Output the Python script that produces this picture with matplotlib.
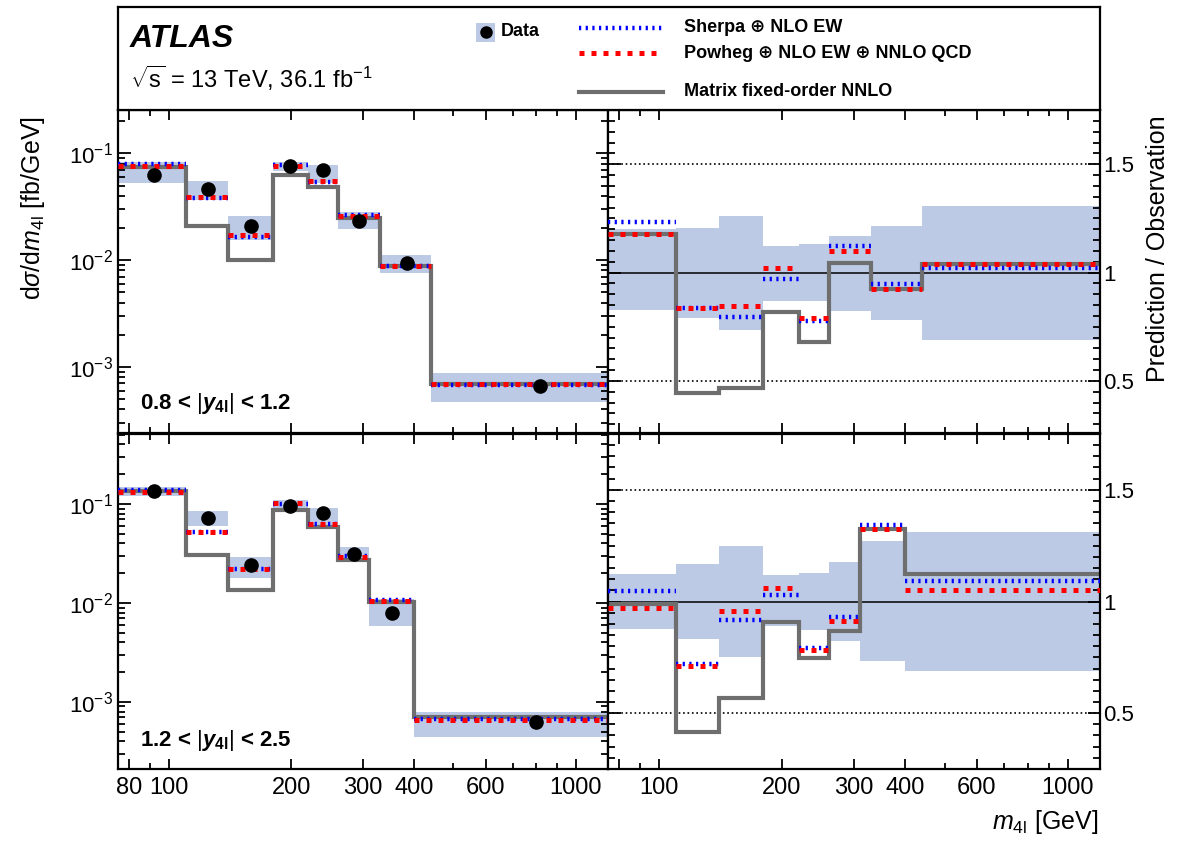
import numpy as np
import matplotlib
matplotlib.use("Agg")
import matplotlib.pyplot as plt
from matplotlib.ticker import FixedLocator, FuncFormatter, NullFormatter, LogLocator, MultipleLocator

plt.rcParams["font.family"] = ["Liberation Sans", "DejaVu Sans"]
plt.rcParams["mathtext.fontset"] = "custom"
plt.rcParams["mathtext.rm"] = "Liberation Sans"
plt.rcParams["mathtext.it"] = "Liberation Sans:italic"
plt.rcParams["mathtext.bf"] = "Liberation Sans:bold"
plt.rcParams["mathtext.bfit"] = "Liberation Sans:bold:italic"

# m4l bin edges for the two |y4l| slices
edges_u = [75, 110, 140, 180, 220, 260, 330, 440, 1200]
edges_l = [75, 110, 140, 180, 220, 260, 310, 400, 1200]

# 0.8 < |y4l| < 1.2 : cross sections [fb/GeV]
data_x_u = [92, 125, 159, 199, 239, 294, 384, 818]
data_u = [0.0627, 0.046, 0.0208, 0.076, 0.0698, 0.0233, 0.00944, 6.64e-4]
sherpa_u = [0.079, 0.0385, 0.0166, 0.0775, 0.0545, 0.0265, 0.0089, 6.8e-4]
powheg_u = [0.0765, 0.0388, 0.0171, 0.0765, 0.0553, 0.026, 0.00885, 6.9e-4]
matrix_u = [0.0748, 0.0208, 0.0100, 0.0627, 0.048, 0.0246, 0.00885, 6.9e-4]
band_u_lo = [0.053, 0.0365, 0.0156, 0.0686, 0.0524, 0.0195, 0.0075, 4.7e-4]
band_u_hi = [0.0834, 0.0553, 0.026, 0.0834, 0.0777, 0.0284, 0.0111, 8.7e-4]

# 1.2 < |y4l| < 2.5
data_x_l = [92, 125, 159, 199, 239, 285, 354, 798]
data_l = [0.1355, 0.0727, 0.024, 0.0963, 0.0805, 0.0316, 0.0079, 6.3e-4]
sherpa_l = [0.139, 0.052, 0.0218, 0.099, 0.0635, 0.0295, 0.0106, 6.8e-4]
powheg_l = [0.1315, 0.0516, 0.0222, 0.1016, 0.0627, 0.0292, 0.01044, 6.6e-4]
matrix_l = [0.134, 0.0303, 0.0134, 0.0869, 0.059, 0.027, 0.0102, 7.1e-4]
band_l_lo = [0.1206, 0.0603, 0.018, 0.0905, 0.0612, 0.027, 0.0058, 4.4e-4]
band_l_hi = [0.148, 0.085, 0.0292, 0.11, 0.0905, 0.037, 0.011, 7.9e-4]

# ratios prediction / observation
r_sherpa_u = [1.235, 0.836, 0.795, 0.971, 0.775, 1.124, 0.948, 1.023]
r_powheg_u = [1.177, 0.836, 0.844, 1.023, 0.79, 1.101, 0.925, 1.039]
r_matrix_u = [1.177, 0.445, 0.468, 0.816, 0.678, 1.043, 0.925, 1.039]
r_band_u_lo = [0.828, 0.79, 0.736, 0.870, 0.867, 0.825, 0.782, 0.69]
r_band_u_hi = [1.2, 1.207, 1.261, 1.123, 1.131, 1.169, 1.215, 1.307]

r_sherpa_l = [1.045, 0.72, 0.919, 1.027, 0.79, 0.93, 1.341, 1.094]
r_powheg_l = [0.972, 0.713, 0.957, 1.06, 0.783, 0.912, 1.323, 1.052]
r_matrix_l = [0.99, 0.414, 0.568, 0.91, 0.746, 0.87, 1.323, 1.124]
r_band_l_lo = [0.878, 0.83, 0.75, 0.892, 0.873, 0.821, 0.733, 0.688]
r_band_l_hi = [1.121, 1.169, 1.248, 1.117, 1.127, 1.179, 1.269, 1.311]

xticks = [80, 100, 200, 300, 400, 600, 1000]
xminor = [90, 500, 700, 800, 900]

BAND = "#bccae6"
GREY = "#6e6e6e"
W, H = 1182, 848
fig = plt.figure(figsize=(W / 100, H / 100), dpi=100)


def px_axes(x0, y0, x1, y1):
    return fig.add_axes([x0 / W, 1 - y1 / H, (x1 - x0) / W, (y1 - y0) / H])


def style(ax, xlabels, skip80=False):
    ax.set_xscale("log")
    ax.set_xlim(75, 1200)
    ax.xaxis.set_major_locator(FixedLocator(xticks))
    ax.xaxis.set_minor_locator(FixedLocator(xminor))
    if xlabels:
        ax.xaxis.set_major_formatter(FuncFormatter(
            lambda v, p: "" if (skip80 and v == 80) else f"{v:g}"))
    else:
        ax.xaxis.set_major_formatter(NullFormatter())
    ax.xaxis.set_minor_formatter(NullFormatter())
    ax.tick_params(axis="x", which="major", length=7, width=1.3)
    ax.tick_params(axis="x", which="minor", length=4, width=1.3)
    ax.tick_params(axis="y", which="major", length=9, width=1.3)
    ax.tick_params(axis="y", which="minor", length=5, width=1.3)
    ax.tick_params(which="both", direction="in", top=True, bottom=True,
                   left=True, right=True, labelsize=16)
    for s in ax.spines.values():
        s.set_linewidth(1.6)


def draw(ax, edges, lo, hi, sherpa, powheg, matrix):
    e = np.array(edges, dtype=float)
    ax.bar(e[:-1], np.array(hi) - np.array(lo), width=np.diff(e), bottom=lo,
           align="edge", color=BAND, lw=0, zorder=1)
    ax.stairs(matrix, e, baseline=None, color=GREY, lw=3, zorder=2)
    ax.hlines(sherpa, e[:-1], e[1:], colors="#0000ff", lw=3.2,
              linestyles=(0, (0.5, 1.0)), zorder=3)
    ax.hlines(powheg, e[:-1], e[1:], colors="#ff0000", lw=3.6,
              linestyles=(0, (1, 1.4)), zorder=4)


ax_ul = px_axes(118, 110, 608, 433)
ax_ll = px_axes(118, 434, 608, 769)
ax_ur = px_axes(608, 110, 1100, 433)
ax_lr = px_axes(608, 434, 1100, 769)

# left: cross sections
for ax, edges, lo, hi, sh, pw, mx, dx, dy, ylim, lab, ly in [
    (ax_ul, edges_u, band_u_lo, band_u_hi, sherpa_u, powheg_u, matrix_u,
     data_x_u, data_u, (2.4e-4, 0.255), r"0.8 < $|\mathbfit{y}_{\mathbf{4l}}|$ < 1.2", 0.09),
    (ax_ll, edges_l, band_l_lo, band_l_hi, sherpa_l, powheg_l, matrix_l,
     data_x_l, data_l, (2.1e-4, 0.51), r"1.2 < $|\mathbfit{y}_{\mathbf{4l}}|$ < 2.5", 0.085),
]:
    ax.set_yscale("log")
    draw(ax, edges, lo, hi, sh, pw, mx)
    ax.plot(dx, dy, "o", color="black", ms=9.5, zorder=5)
    ax.set_ylim(*ylim)
    style(ax, ax is ax_ll)
    ax.yaxis.set_major_locator(LogLocator(base=10, numticks=10))
    ax.yaxis.set_minor_locator(LogLocator(base=10, subs=np.arange(2, 10), numticks=10))
    ax.yaxis.set_minor_formatter(NullFormatter())
    ax.text(0.045, ly, lab, transform=ax.transAxes, fontsize=16,
            fontweight="bold", ha="left", va="center")

# right: ratios
for ax, edges, lo, hi, sh, pw, mx, ylim in [
    (ax_ur, edges_u, r_band_u_lo, r_band_u_hi, r_sherpa_u, r_powheg_u, r_matrix_u, (0.26, 1.75)),
    (ax_lr, edges_l, r_band_l_lo, r_band_l_hi, r_sherpa_l, r_powheg_l, r_matrix_l, (0.25, 1.75)),
]:
    draw(ax, edges, lo, hi, sh, pw, mx)
    ax.axhline(1.0, color="black", lw=1.1, zorder=1.5)
    ax.axhline(0.5, color="black", lw=1.2, ls=":", zorder=1.5)
    ax.axhline(1.5, color="black", lw=1.2, ls=":", zorder=1.5)
    ax.set_ylim(*ylim)
    style(ax, ax is ax_lr, skip80=True)
    ax.yaxis.set_major_locator(FixedLocator([0.5, 1.0, 1.5]))
    ax.yaxis.set_minor_locator(MultipleLocator(0.05))
    ax.yaxis.set_major_formatter(FuncFormatter(lambda v, p: f"{v:g}"))
    ax.tick_params(axis="y", labelleft=False, labelright=True, pad=2)

for ax in (ax_ll, ax_lr):
    ax.tick_params(axis="x", pad=6, labelsize=17)

fig.text(33 / W, 1 - 208 / H, r"d$\sigma$/d$m_{4\mathrm{l}}$ [fb/GeV]",
         rotation=90, ha="center", va="center", fontsize=18)
fig.text(1158 / W, 1 - 249 / H, "Prediction / Observation",
         rotation=90, ha="center", va="center", fontsize=18)
fig.text(1098 / W, 1 - 822 / H, r"$m_{4\mathrm{l}}$ [GeV]",
         ha="right", va="center", fontsize=18)

# header box with labels and legend
hd = px_axes(118, 7, 1100, 110)
hd.set_xlim(118, 1100)
hd.set_ylim(110, 7)
hd.set_xticks([])
hd.set_yticks([])
for s in hd.spines.values():
    s.set_linewidth(1.6)
hd.text(130, 47, "ATLAS", fontsize=23, fontweight="bold", style="italic",
        ha="left", va="baseline")
hd.text(130, 88, r"$\sqrt{\mathrm{s}}$ = 13 TeV, 36.1 fb$^{-1}$", fontsize=17,
        ha="left", va="baseline")
hd.add_patch(plt.Rectangle((476, 23), 19, 19, color=BAND, lw=0))
hd.plot([486], [32], "o", color="black", ms=8)
hd.text(501, 32, "Data", fontsize=13, fontweight="bold", va="center")
hd.plot([579, 663], [28, 28], color="#0000ff", lw=3.2, ls=(0, (0.5, 1.0)))
hd.plot([579, 663], [53, 53], color="#ff0000", lw=3.6, ls=(0, (1, 1.4)))
hd.plot([579, 663], [92, 92], color=GREY, lw=3)
hd.text(684, 28, "Sherpa \u2295 NLO EW", fontsize=13, fontweight="bold", va="center")
hd.text(684, 53, "Powheg \u2295 NLO EW \u2295 NNLO QCD", fontsize=13,
        fontweight="bold", va="center")
hd.text(684, 92, "Matrix fixed-order NNLO", fontsize=13, fontweight="bold", va="center")

fig.savefig("out.png", dpi=100)
